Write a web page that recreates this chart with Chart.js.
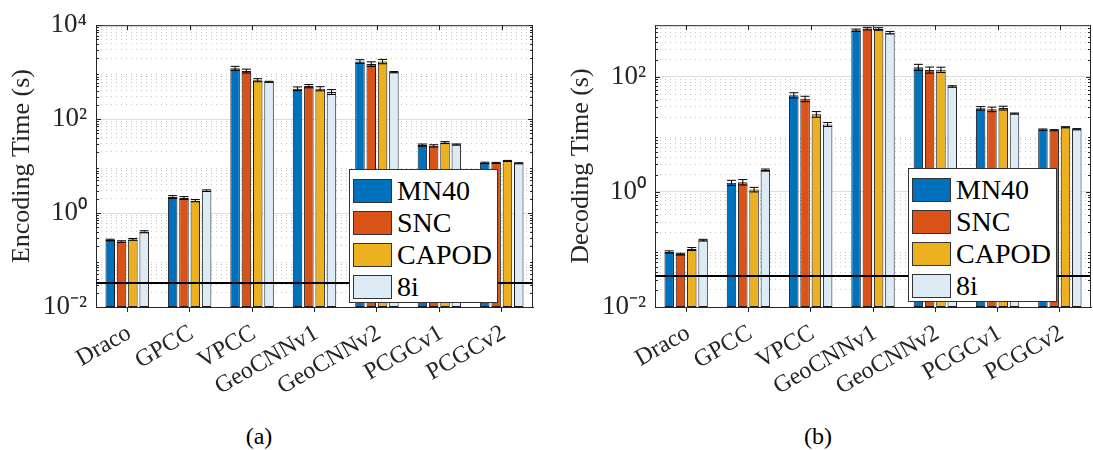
<!DOCTYPE html>
<html>
<head>
<meta charset="utf-8">
<script src="https://cdn.jsdelivr.net/npm/chart.js@4.4.1/dist/chart.umd.min.js"></script>
<style>
  body { margin: 0; background: #fff; }
  #wrap { position: relative; width: 1093px; height: 450px; font-family: 'Liberation Serif', 'Times New Roman', serif; }
  .pane { position: absolute; top: 0; height: 410px; }
  .legend { position: absolute; box-sizing: border-box; width: 149px; height: 134px; border: 1px solid #333; background: #fff; padding: 5px 0 0 3px; }
  .row { display: flex; align-items: center; height: 32px; }
  .sw { width: 39px; height: 24px; box-sizing: border-box; border: 1px solid #333; margin-right: 5px; }
  .lab { font-size: 28px; color: #000; line-height: 28px; }
  .cap { position: absolute; top: 421px; height: 30px; line-height: 30px; font-size: 24px; text-align: center; color: #000; }
</style>
</head>
<body>
<div id="wrap">
  <div class="pane" style="left:0;width:546px"><canvas id="enc"></canvas></div>
  <div class="pane" style="left:559px;width:534px"><canvas id="dec"></canvas></div>
  <div class="legend" id="legEnc" style="left:349px;top:169px"></div>
  <div class="legend" id="legDec" style="left:908px;top:168px"></div>
  <div class="cap" style="left:0;width:518px">(a)</div>
  <div class="cap" style="left:546px;width:544px">(b)</div>
</div>
<script>
var categories = ['Draco', 'GPCC', 'VPCC', 'GeoCNNv1', 'GeoCNNv2', 'PCGCv1', 'PCGCv2'];
var seriesNames = ['MN40', 'SNC', 'CAPOD', '8i'];

// encoding time (s), mean and spread per dataset
var encMN40 = [0.267, 2.2, 1210, 445, 1690, 28, 11.7];
var encSNC = [0.247, 2.09, 1060, 505, 1490, 27, 11.7];
var encCAPOD = [0.275, 1.84, 676, 445, 1690, 31.7, 12.9];
var enc8i = [0.40, 3.0, 624, 380, 1000, 28.8, 11.5];
var encErrMN40 = [0.01, 0.15, 120, 40, 150, 1.5, 0.4];
var encErrSNC = [0.01, 0.15, 100, 40, 170, 1.5, 0.3];
var encErrCAPOD = [0.012, 0.1, 50, 45, 180, 1.5, 0.3];
var encErr8i = [0.02, 0.12, 15, 45, 30, 0.8, 0.3];

// decoding time (s)
var decMN40 = [0.0906, 1.44, 47.9, 645, 147, 28.4, 12.1];
var decSNC = [0.083, 1.48, 41.5, 690, 132, 27.3, 11.8];
var decCAPOD = [0.102, 1.10, 22.4, 680, 133, 28.7, 13.3];
var dec8i = [0.145, 2.4, 14.9, 586, 68, 23, 12.3];
var decErrMN40 = [0.004, 0.15, 5, 30, 18, 2, 0.3];
var decErrSNC = [0.003, 0.16, 4.5, 35, 16, 2.5, 0.3];
var decErrCAPOD = [0.006, 0.1, 2.5, 35, 14, 2.2, 0.3];
var decErr8i = [0.005, 0.1, 1.2, 30, 2, 0.5, 0.3];

var encRef = 0.032;
var decRef = 0.034;

var colors = ['#0072BD', '#D95319', '#EDB120', '#DDEBF7'];
var serif = "'Liberation Serif', 'Times New Roman', serif";
var axisColor = '#262626';

var sup = { '-': '\u207B', '0': '\u2070', '1': '\u00B9', '2': '\u00B2', '3': '\u00B3', '4': '\u2074' };
function powLabel(v) {
  var e = String(Math.round(Math.log10(v)));
  return '10' + e.split('').map(function (c) { return sup[c]; }).join('');
}

function minorsUpTo(max) {
  var out = [];
  for (var d = -2; d <= 3; d++) {
    for (var k = 2; k <= 9; k++) {
      var v = k * Math.pow(10, d);
      if (v < max) out.push(v);
    }
  }
  return out;
}

// error bars + reference line, drawn through the y scale
var extras = {
  id: 'extras',
  afterDatasetsDraw: function (chart) {
    var ctx = chart.ctx, y = chart.scales.y, area = chart.chartArea;
    ctx.save();
    ctx.strokeStyle = '#000';
    ctx.lineWidth = 1;
    chart.data.datasets.forEach(function (ds, i) {
      var meta = chart.getDatasetMeta(i);
      meta.data.forEach(function (bar, j) {
        var v = ds.data[j], e = ds.errors[j];
        var y1 = y.getPixelForValue(v + e), y2 = y.getPixelForValue(Math.max(v - e, 1e-3));
        var hw = 4.5;
        ctx.beginPath();
        ctx.moveTo(bar.x, y1); ctx.lineTo(bar.x, y2);
        ctx.moveTo(bar.x - hw, y1); ctx.lineTo(bar.x + hw, y1);
        ctx.moveTo(bar.x - hw, y2); ctx.lineTo(bar.x + hw, y2);
        ctx.stroke();
      });
    });
    var ry = Math.round(y.getPixelForValue(chart.options.refLine));
    ctx.lineWidth = 2.2;
    ctx.beginPath();
    ctx.moveTo(area.left, ry); ctx.lineTo(area.right, ry);
    ctx.stroke();
    ctx.restore();
  },
  afterDraw: function (chart) {
    var ctx = chart.ctx, y = chart.scales.y, x = chart.scales.x, a = chart.chartArea;
    ctx.save();
    ctx.strokeStyle = axisColor;
    ctx.lineWidth = 1;
    ctx.beginPath();
    ctx.moveTo(a.left, a.top + 0.5); ctx.lineTo(a.right, a.top + 0.5);
    ctx.moveTo(a.right - 0.5, a.top); ctx.lineTo(a.right - 0.5, a.bottom);
    y.ticks.forEach(function (t) {
      var py = Math.round(y.getPixelForValue(t.value)) + 0.5;
      ctx.moveTo(a.left, py); ctx.lineTo(a.left + 5, py);
      ctx.moveTo(a.right, py); ctx.lineTo(a.right - 5, py);
    });
    chart.scales.y2.ticks.forEach(function (t) {
      var py = Math.round(y.getPixelForValue(t.value)) + 0.5;
      ctx.moveTo(a.left, py); ctx.lineTo(a.left + 3, py);
      ctx.moveTo(a.right, py); ctx.lineTo(a.right - 3, py);
    });
    x.ticks.forEach(function (t, i) {
      var px = Math.round(x.getPixelForValue(i)) + 0.5;
      ctx.moveTo(px, a.top); ctx.lineTo(px, a.top + 5);
    });
    ctx.stroke();
    ctx.restore();
  }
};

function buildChart(id, series, errs, yMax, majors, ref, title, rightPad) {
  var datasets = series.map(function (s, i) {
    return {
      label: seriesNames[i],
      data: s,
      errors: errs[i],
      backgroundColor: colors[i],
      borderColor: '#1a1a1a',
      borderWidth: 1,
      borderSkipped: false,
      barPercentage: 0.84,
      categoryPercentage: 0.725
    };
  });
  var minors = minorsUpTo(yMax);
  return new Chart(document.getElementById(id), {
    type: 'bar',
    data: { labels: categories, datasets: datasets },
    options: {
      responsive: true,
      maintainAspectRatio: false,
      animation: false,
      refLine: ref,
      layout: { padding: { top: 21, right: rightPad, left: 0, bottom: 0 } },
      plugins: { legend: { display: false }, tooltip: { enabled: false } },
      scales: {
        x: {
          type: 'category',
          offset: true,
          grid: { offset: false, drawOnChartArea: false, drawTicks: true, tickLength: 5, tickColor: axisColor },
          border: { color: axisColor, width: 1 },
          ticks: { autoSkip: false, maxRotation: 30, minRotation: 30, padding: 7, labelOffset: 2, color: axisColor, font: { family: serif, size: 24 } },
          afterFit: function (s) { s.height = 103; }
        },
        y: {
          type: 'logarithmic',
          min: 0.01,
          max: yMax,
          position: 'left',
          afterBuildTicks: function (s) { s.ticks = majors.map(function (v) { return { value: v }; }); },
          grid: { color: '#dedede', drawTicks: false },
          border: { color: axisColor, width: 1 },
          ticks: { padding: 9, color: axisColor, font: { family: serif, size: 27 }, callback: function (v) { return powLabel(v); } },
          title: { display: true, text: title, color: axisColor, font: { family: serif, size: 26 }, padding: { top: 7, bottom: 0 } },
          afterFit: function (s) { s.width = 96; }
        },
        y2: {
          type: 'logarithmic',
          min: 0.01,
          max: yMax,
          position: 'left',
          afterBuildTicks: function (s) { s.ticks = minors.map(function (v) { return { value: v }; }); },
          grid: { color: '#c4c4c4', drawTicks: false },
          border: { display: false, dash: [1, 4] },
          ticks: { display: false },
          afterFit: function (s) { s.width = 0; }
        }
      }
    },
    plugins: [extras]
  });
}

function buildLegend(id) {
  var box = document.getElementById(id);
  seriesNames.forEach(function (name, i) {
    var row = document.createElement('div');
    row.className = 'row';
    row.innerHTML = '<span class="sw" style="background:' + colors[i] + '"></span><span class="lab">' + name + '</span>';
    box.appendChild(row);
  });
}

buildChart('enc', [encMN40, encSNC, encCAPOD, enc8i], [encErrMN40, encErrSNC, encErrCAPOD, encErr8i],
  10000, [0.01, 1, 100, 10000], encRef, 'Encoding Time (s)', 13);
buildChart('dec', [decMN40, decSNC, decCAPOD, dec8i], [decErrMN40, decErrSNC, decErrCAPOD, decErr8i],
  790, [0.01, 1, 100], decRef, 'Decoding Time (s)', 2);
buildLegend('legEnc');
buildLegend('legDec');
</script>
</body>
</html>
